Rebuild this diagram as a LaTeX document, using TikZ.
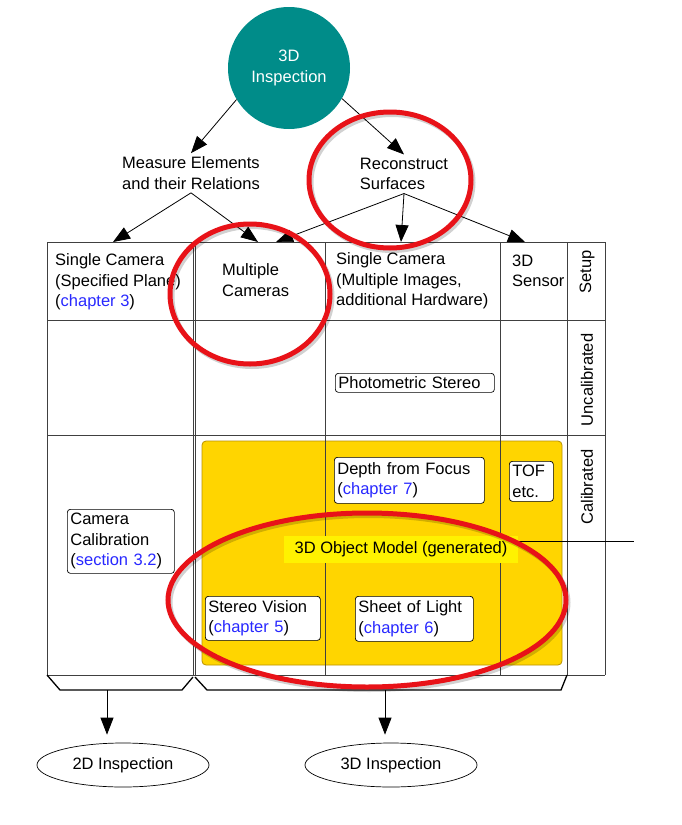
\documentclass[tikz,border=0pt]{standalone}
\usepackage{fontspec}
\setmainfont{Liberation Sans}
\usetikzlibrary{arrows.meta,shapes.geometric}
\definecolor{inspteal}{RGB}{0,140,137}
\definecolor{modelgold}{RGB}{255,213,0}
\definecolor{modeledge}{RGB}{185,145,0}
\definecolor{refblue}{RGB}{40,40,255}
\definecolor{markred}{RGB}{232,18,24}
\newcommand{\chref}[1]{(\textcolor{refblue}{#1})}

\begin{document}
\begin{tikzpicture}[x=1pt, y=-1pt, font=\fontsize{16.5}{20.5}\selectfont,
	arr/.style={-{Triangle[length=17pt,width=13pt]}, line width=0.8pt},
	grid/.style={line width=0.9pt, draw=black!75},
	foot/.style={line width=1.3pt},
	bx/.style={draw, fill=white, rounded corners=3pt, align=left, anchor=north west,
		inner xsep=3pt, inner ysep=0pt, line width=0.7pt},
	lbl/.style={align=left, anchor=west, inner sep=0pt},
	side/.style={rotate=90, inner sep=0pt},
	ring/.style={draw=markred, line width=5pt},
	ringshade/.style={draw=black, opacity=0.18, line width=5pt, shift={(2,2.5)}},
	outp/.style={ellipse, draw, minimum width=172pt, minimum height=44pt, line width=0.7pt}]
	\useasboundingbox (0,0) rectangle (681,825);

	\node [circle, fill=inspteal, minimum size=122pt, text=white, align=center] (top) at (289,68) {3D\\Inspection};
	\node [align=left] (measure) at (191,173) {Measure Elements\\and their Relations};
	\node [align=left] (recon) at (404,174) {Reconstruct\\Surfaces};

	\coordinate (plane) at (113,242);
	\coordinate (multi) at (258,242);
	\coordinate (multib) at (276,242);
	\coordinate (single) at (401,242);
	\coordinate (sensor) at (525,242);

	\draw [arr] (top.211) -- (measure.north);
	\draw [arr] (top.330) -- (recon.north);
	\draw [arr] (measure.south) -- (plane);
	\draw [arr] (measure.south) -- (multi);
	\draw [arr] (recon.south) -- (multib);
	\draw [arr] (recon.south) -- (single);
	\draw [arr] (recon.south) -- (sensor);

	\draw [grid] (47,242) -- (605,242);
	\draw [grid] (47,320) -- (605,320);
	\draw [grid] (47,435) -- (605,435);
	\draw [grid] (47,675) -- (605,675);
	\foreach \x in {47,193,195,567,605}
		\draw [grid] (\x,242) -- (\x,675);
	\foreach \x in {325,500}
		\draw [grid] (\x,242) -- (\x,435);
	\draw [foot] (47,675) -- (60,690) -- (182,690) -- (193,677);
	\draw [foot] (195,677) -- (207,690) -- (561,690) -- (567,675);

	\draw [fill=modelgold, draw=modeledge, rounded corners=4pt, line width=0.8pt] (202,441) rectangle (562,665);
	\foreach \x in {325,500}
		\draw [grid] (\x,435) -- (\x,675);

	\node [lbl] (planetxt) at (55,282) {Single Camera\\(Specified Plane)\\\chref{chapter 3}};
	\node [lbl] (multitxt) at (222,280) {Multiple\\Cameras};
	\node [lbl] (singletxt) at (336,281) {Single Camera\\(Multiple Images,\\additional Hardware)};
	\node [lbl] (sensortxt) at (512,271) {3D\\Sensor};
	\node [side] (setup) at (587,272) {Setup};
	\node [side] (uncal) at (587,380) {Uncalibrated};
	\node [side] (cal) at (587,487) {Calibrated};

	\node [bx, text width=153pt, minimum height=19pt] (photo) at (335,373) {Photometric Stereo};
	\node [bx, text width=144pt, minimum height=46pt] (depth) at (334,457) {Depth from Focus\\\chref{chapter 7}};
	\node [bx, text width=38pt, minimum height=40pt] (tof) at (509,461) {TOF\\etc.};
	\node [bx, text width=101pt, minimum height=64pt] (calib) at (67,509) {Camera\\Calibration\\\chref{section 3.2}};
	\node [bx, text width=109pt, minimum height=44pt] (stereo) at (205,596) {Stereo Vision\\\chref{chapter 5}};
	\node [bx, text width=112pt, minimum height=45pt] (sheet) at (355,596) {Sheet of Light\\\chref{chapter 6}};

	\node [fill=yellow, minimum width=234pt, minimum height=27pt, inner sep=0pt] (model) at (401,549.5) {3D Object Model (generated)};
	\coordinate (modelend) at (634,541);
	\draw [line width=0.7pt] (model.east |- modelend) -- (modelend);

	\coordinate (leftfoot) at (107,690);
	\coordinate (rightfoot) at (385,690);
	\node [outp] (insp2d) at (123,765) {2D Inspection};
	\node [outp] (insp3d) at (391,765) {3D Inspection};
	\draw [arr, shorten >=8pt] (leftfoot) -- (leftfoot |- insp2d.north);
	\draw [arr, shorten >=8pt] (rightfoot) -- (rightfoot |- insp3d.north);

	\draw [ringshade] (390,180) ellipse [x radius=81pt, y radius=68pt];
	\draw [ringshade] (250,294) ellipse [x radius=80pt, y radius=70pt];
	\draw [ringshade] (367,600) ellipse [x radius=199pt, y radius=87pt];
	\draw [ring] (390,180) ellipse [x radius=81pt, y radius=68pt];
	\draw [ring] (250,294) ellipse [x radius=80pt, y radius=70pt];
	\draw [ring] (367,600) ellipse [x radius=199pt, y radius=87pt];
\end{tikzpicture}
\end{document}
